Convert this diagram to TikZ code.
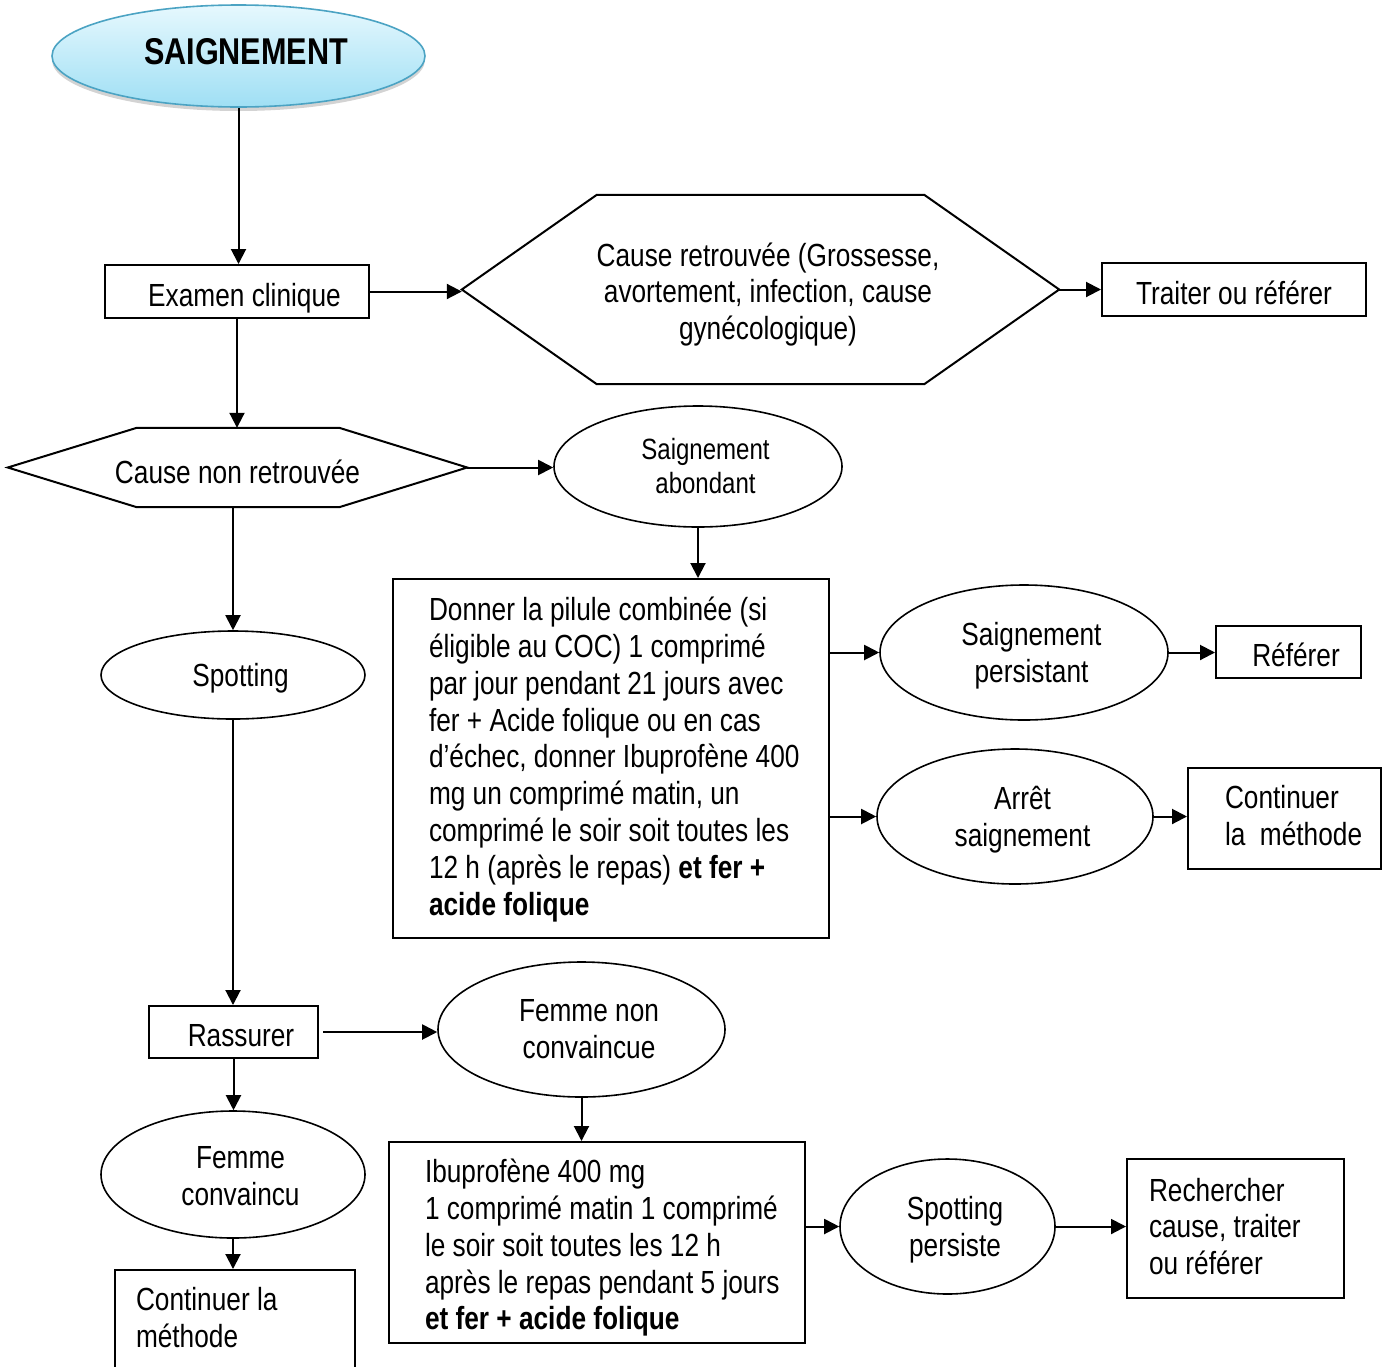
\documentclass[tikz,border=0pt]{standalone}
\usepackage{fontspec}
\setmainfont{Liberation Sans}[FakeStretch=0.82]
\usetikzlibrary{shapes.geometric,arrows.meta,shadows}
\definecolor{skytop}{HTML}{E6F8FE}
\definecolor{skybottom}{HTML}{9FDFF4}
\definecolor{skyline}{HTML}{4BA3C3}
% pushes centred labels a little to the right
\newcommand\tshift{\hspace*{15pt}}
% moves the ink of a label down without changing its size
\newcommand\lowered[2]{\raisebox{-#1}[\height][\depth]{#2}}
% centred stack of lines, optionally lowered
\newcommand\cblock[2][0pt]{\lowered{#1}{\begin{tabular}{@{}c@{}}#2\end{tabular}}}
% left-aligned stack of lines with a fixed nominal width, optionally lowered
\newcommand\leftblock[3][0pt]{\makebox[#2][l]{\lowered{#1}{\begin{tabular}{@{}l@{}}#3\end{tabular}}}}
\begin{document}
\begin{tikzpicture}[x=1pt,y=-1pt,
  every node/.style={font=\fontsize{32}{36.8}\selectfont},
  box/.style={draw, rectangle, line width=2pt, inner sep=0pt},
  oval/.style={draw, ellipse, line width=1.6pt, inner sep=0pt, fill=white},
  hexa/.style={inner sep=0pt},
  hexline/.style={line width=2pt, line join=miter},
  title/.style={ellipse, draw=skyline, line width=1.6pt, inner sep=0pt,
    top color=skytop, bottom color=skybottom,
    drop shadow={shadow xshift=0pt, shadow yshift=-4pt, opacity=0.35},
    font=\fontsize{37.3}{42}\selectfont\bfseries},
  link/.style={line width=2pt, -{Triangle[length=15pt,width=15pt]}},
]
\path[use as bounding box] (0,0) rectangle (1391,1366);
\clip (0,0) rectangle (1391,1366);

% ---- nodes ----
\node[title, minimum width=373, minimum height=102] (top) at (238.5,56) {\lowered{-4.5pt}{\tshift SAIGNEMENT}};

\node[box, minimum width=264, minimum height=53] (exam) at (237,291.5) {\lowered{6.5pt}{\tshift Examen clinique}};

\node[hexa, minimum width=597, minimum height=189] (found) at (760.5,289.5)
  {\cblock[6pt]{\tshift Cause retrouvée (Grossesse,\\\tshift avortement, infection, cause\\\tshift gynécologique)}};
\draw[hexline] (found.west) -- ([xshift=135pt]found.north west) -- ([xshift=-135pt]found.north east)
  -- (found.east) -- ([xshift=-135pt]found.south east) -- ([xshift=135pt]found.south west) -- cycle;

\node[box, minimum width=264, minimum height=53] (treat) at (1234,289.5) {\lowered{3pt}{Traiter ou référer}};

\node[hexa, minimum width=459, minimum height=79] (nocause) at (237.5,467.5) {\lowered{4pt}{Cause non retrouvée}};
\draw[hexline] (nocause.west) -- ([xshift=129pt]nocause.north west) -- ([xshift=-128pt]nocause.north east)
  -- (nocause.east) -- ([xshift=-128pt]nocause.south east) -- ([xshift=129pt]nocause.south west) -- cycle;

\node[oval, minimum width=288, minimum height=121, font=\fontsize{29.3}{33.7}\selectfont]
  (heavy) at (698,466.5) {\cblock[3pt]{\tshift Saignement\\\tshift abondant}};

\node[box, minimum width=436, minimum height=359, inner xsep=36pt] (coc) at (611,758.5)
  {\leftblock[2pt]{364pt}{Donner la pilule combinée (si\\
   éligible au COC) 1 comprimé\\
   par jour pendant 21 jours avec\\
   fer + Acide folique ou en cas\\
   d’échec, donner Ibuprofène 400\\
   mg un comprimé matin, un\\
   comprimé le soir soit toutes les\\
   12 h (après le repas) \textbf{et fer +}\\
   \textbf{acide folique}}};

\node[oval, minimum width=288, minimum height=135] (persist) at (1024,652.5) {\cblock[4.5pt]{\tshift Saignement\\\tshift persistant}};
\node[box, minimum width=145, minimum height=52] (refer) at (1288.5,652) {\lowered{3pt}{\tshift Référer}};

\node[oval, minimum width=276, minimum height=135] (stop) at (1015,816.5) {\cblock[4pt]{\tshift Arrêt\\\tshift saignement}};
\node[box, minimum width=193, minimum height=101, inner xsep=37pt] (keep) at (1284.5,818.5)
  {\leftblock[1.5pt]{119pt}{Continuer\\la\ \ méthode}};

\node[oval, minimum width=264, minimum height=88] (spot) at (233,675) {\lowered{3pt}{\tshift Spotting}};

\node[box, minimum width=169, minimum height=52] (calm) at (233.5,1032) {\lowered{4pt}{\tshift Rassurer}};

\node[oval, minimum width=287, minimum height=135] (unconv) at (581.5,1029.5) {\cblock[3pt]{\tshift Femme non\\\tshift convaincue}};

\node[box, minimum width=416, minimum height=201, inner xsep=36pt] (ibu) at (597,1242.5)
  {\leftblock[6.5pt]{344pt}{Ibuprofène 400 mg\\
   1 comprimé matin 1 comprimé\\
   le soir soit toutes les 12 h\\
   après le repas pendant 5 jours\\
   \textbf{et fer + acide folique}}};

\node[oval, minimum width=215, minimum height=135] (spotp) at (947.5,1226.5) {\cblock[4pt]{\tshift Spotting\\\tshift persiste}};

\node[box, minimum width=217, minimum height=139, inner xsep=22pt] (search) at (1235.5,1228.5)
  {\leftblock[2pt]{173pt}{Rechercher\\cause, traiter\\ou référer}};

\node[oval, minimum width=264, minimum height=127] (conv) at (233,1174.5) {\cblock[5pt]{\tshift Femme\\\tshift convaincu}};

\node[box, minimum width=240, minimum height=100, inner xsep=21pt, anchor=north west] (keep2) at (114,1269)
  {\leftblock[2pt]{198pt}{Continuer la\\méthode}};

% ---- connectors ----
\draw[link] (top.south) -- (top.south |- exam.north);
\draw[link] (exam.east) -- (exam.east -| found.west);
\draw[link] (found.east) -- (found.east -| treat.west);
\draw[link] (exam.south) -- (exam.south |- nocause.north);
\draw[link] (nocause.east) -- (nocause.east -| heavy.west);
\draw[link] (heavy.south) -- (heavy.south |- coc.north);
\draw[link] (coc.east |- persist.west) -- (persist.west);
\draw[link] (coc.east |- stop.west) -- (stop.west);
\draw[link] (persist.east) -- (persist.east -| refer.west);
\draw[link] (stop.east) -- (stop.east -| keep.west);
\draw[link] (nocause.south -| spot.north) -- (spot.north);
\draw[link] (spot.south) -- (spot.south |- calm.north);
\draw[link] ([xshift=4pt]calm.east) -- (calm.east -| unconv.west);
\draw[link] (unconv.south) -- (unconv.south |- ibu.north);
\draw[link] (ibu.east |- spotp.west) -- (spotp.west);
\draw[link] (spotp.east) -- (spotp.east -| search.west);
\draw[link] (calm.south) -- (calm.south |- conv.north);
\draw[link] (conv.south) -- (conv.south |- keep2.north);
\end{tikzpicture}
\end{document}
